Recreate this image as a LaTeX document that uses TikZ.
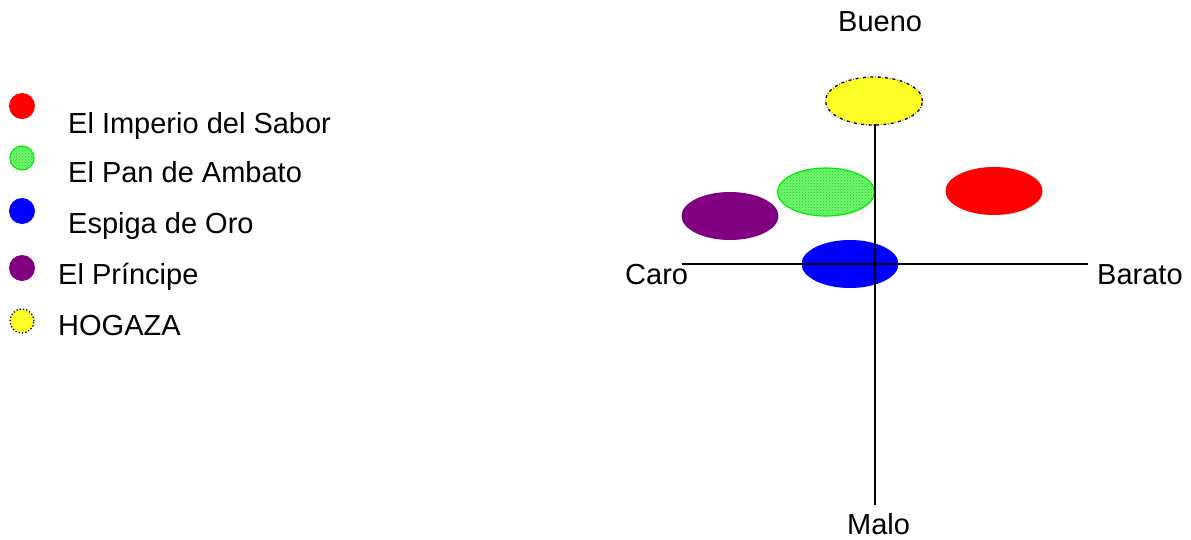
\documentclass[tikz,border=0pt]{standalone}
\usepackage{fontspec}
\setmainfont{Liberation Sans}
\usetikzlibrary{shapes.geometric,patterns}
\definecolor{brandred}{RGB}{255,0,0}
\definecolor{brandgreen}{RGB}{120,240,120}
\definecolor{brandgreenedge}{RGB}{0,235,0}
\definecolor{brandblue}{RGB}{0,0,255}
\definecolor{brandpurple}{RGB}{128,0,128}
\definecolor{brandyellow}{RGB}{255,255,40}
\begin{document}
\begin{tikzpicture}[x=1pt,y=-1pt,
  lbl/.style={font=\fontsize{29}{34}\selectfont, inner sep=0pt, anchor=base west},
  dotmark/.style={circle, inner sep=0pt, minimum size=26pt},
  blob/.style={ellipse, inner sep=0pt, minimum width=97pt, minimum height=48pt},
  axis/.style={line width=1.8pt, black},
  redfill/.style={fill=brandred},
  greenfill/.style={fill=brandgreen, draw=brandgreenedge, line width=1.2pt,
    postaction={pattern=crosshatch dots, pattern color=brandgreenedge}},
  bluefill/.style={fill=brandblue},
  purplefill/.style={fill=brandpurple},
  yellowfill/.style={fill=brandyellow, draw=black, dash dot, line width=1.3pt}]
\useasboundingbox (0,0) rectangle (1191,539);

% legend
\node[dotmark, redfill]    (k1) at (22,106) {};
\node[dotmark, greenfill, minimum size=24pt] (k2) at (22,158) {};
\node[dotmark, bluefill]   (k3) at (22,211) {};
\node[dotmark, purplefill] (k4) at (22,268) {};
\node[dotmark, yellowfill, dotted, minimum size=24pt] (k5) at (22,321) {};

\node[lbl] (t1) at (68,133) {El Imperio del Sabor};
\node[lbl] (t2) at (68,182) {El Pan de Ambato};
\node[lbl] (t3) at (68,233) {Espiga de Oro};
\node[lbl] (t4) at (58,284) {El Príncipe};
\node[lbl] (t5) at (58,335) {HOGAZA};

% brands on the map
\node[blob, yellowfill] (hogaza)  at (874,101) {};
\node[blob, greenfill]  (ambato)  at (826,192) {};
\node[blob, redfill]    (imperio) at (994,191) {};
\node[blob, purplefill] (principe) at (730,216) {};
\node[blob, bluefill]   (espiga)  at (850,264) {};

% axes
\coordinate (ytop) at (875,124);
\coordinate (ybot) at (875,505);
\coordinate (xleft) at (682,264);
\coordinate (xright) at (1088,264);
\draw[axis] (ytop) -- (ybot);
\draw[axis] (xleft) -- (xright);

% axis labels
\node[lbl] (bueno)  at (838,31)  {Bueno};
\node[lbl] (malo)   at (847,534) {Malo};
\node[lbl] (caro)   at (625,284) {Caro};
\node[lbl] (barato) at (1097,284) {Barato};
\end{tikzpicture}
\end{document}
